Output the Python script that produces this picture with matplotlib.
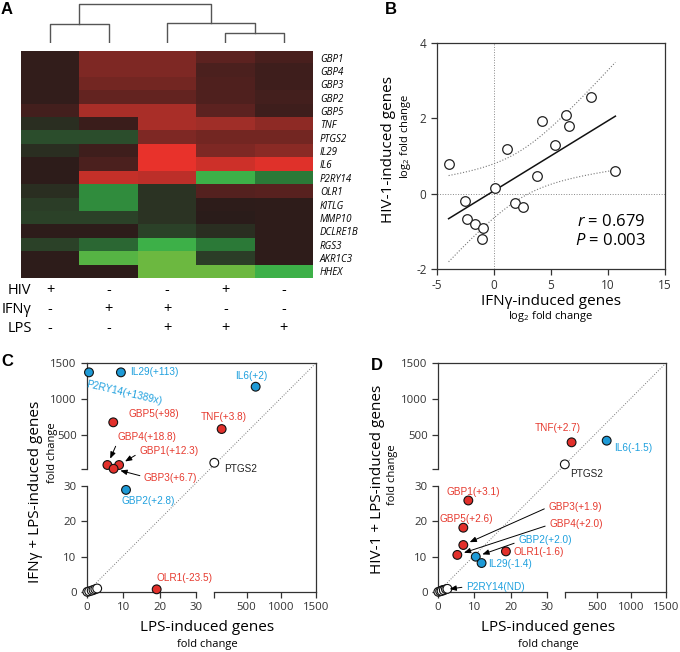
import numpy as np
import matplotlib
matplotlib.use('Agg')
import matplotlib.pyplot as plt
from matplotlib.colors import LinearSegmentedColormap

plt.rcParams['font.family'] = ['Open Sans', 'DejaVu Sans']
plt.rcParams['mathtext.fontset'] = 'custom'
plt.rcParams['mathtext.rm'] = 'Open Sans'
plt.rcParams['mathtext.it'] = 'Open Sans:italic'
plt.rcParams['axes.unicode_minus'] = False

# ---------------- panel A: heatmap ----------------
genes = ['GBP1', 'GBP4', 'GBP3', 'GBP2', 'GBP5', 'TNF', 'PTGS2', 'IL29', 'IL6',
         'P2RY14', 'OLR1', 'KITLG', 'MMP10', 'DCLRE1B', 'RGS3', 'AKR1C3', 'HHEX']
treatments = ['HIV', 'IFNγ', 'LPS']
treat_signs = [['+', '-', '-', '+', '-'],
               ['-', '+', '+', '-', '-'],
               ['-', '-', '+', '+', '+']]
# relative expression (red = up, green = down), columns as in the figure
heat = np.array([
    [0.05, 0.45, 0.45, 0.30, 0.18],
    [0.05, 0.45, 0.45, 0.20, 0.12],
    [0.05, 0.40, 0.40, 0.22, 0.12],
    [0.05, 0.33, 0.33, 0.22, 0.15],
    [0.15, 0.65, 0.65, 0.30, 0.12],
    [-0.12, 0.10, 0.65, 0.60, 0.52],
    [-0.30, -0.30, 0.45, 0.40, 0.40],
    [-0.12, 0.12, 1.00, 0.45, 0.50],
    [0.02, 0.20, 1.00, 0.85, 0.95],
    [0.02, 0.80, 0.75, -0.80, -0.50],
    [-0.12, -0.60, -0.15, 0.25, 0.28],
    [-0.22, -0.60, -0.15, 0.02, 0.03],
    [-0.25, -0.25, -0.15, 0.00, 0.03],
    [0.02, 0.02, -0.25, -0.12, 0.03],
    [-0.25, -0.42, -0.80, -0.50, 0.03],
    [0.02, -0.88, -0.95, -0.22, 0.03],
    [0.02, 0.02, -0.95, -0.95, -0.80],
])
# dendrogram over the 5 columns: (left node, right node, height); new nodes get ids 5, 6, ...
merges = [(0, 1, 19), (3, 4, 10), (2, 6, 20), (5, 7, 40)]

# ---------------- panel B ----------------
ifng_log2 = [-3.98, -2.58, -2.37, -1.70, -0.97, -1.03, 0.05, 1.16, 1.86,
             2.59, 3.76, 4.23, 5.39, 6.33, 6.56, 8.52, 10.65]
hiv_log2 = [0.79, -0.20, -0.68, -0.80, -0.92, -1.21, 0.16, 1.19, -0.25,
            -0.36, 0.47, 1.92, 1.30, 2.08, 1.79, 2.57, 0.61]
r_value = '0.679'
p_value = '0.003'

# ---------------- panel C ----------------
c_genes = ['P2RY14', 'IL29', 'IL6', 'GBP5', 'TNF', 'GBP4', 'GBP1', 'GBP3', 'GBP2',
           'OLR1', 'PTGS2', 'KITLG', 'MMP10', 'DCLRE1B', 'RGS3', 'AKR1C3', 'HHEX']
c_lps = [0.55, 9.3, 631, 7.2, 141, 5.6, 8.8, 7.3, 10.7, 19.1, 35, 0.1, 0.6, 1.3, 1.8, 2.3, 2.8]
c_ifng_lps = [1371, 1371, 1172, 679, 586, 88, 88, 36, 28.9, 0.76, 119, 0.05, 0.2, 0.4, 0.6, 0.8, 1.0]
c_group = ['blue', 'blue', 'blue', 'red', 'red', 'red', 'red', 'red', 'blue',
           'red', 'none', 'none', 'none', 'none', 'none', 'none', 'none']

# ---------------- panel D ----------------
d_genes = ['TNF', 'IL6', 'PTGS2', 'GBP1', 'GBP5', 'GBP3', 'GBP4', 'GBP2', 'IL29',
           'OLR1', 'P2RY14', 'KITLG', 'MMP10', 'DCLRE1B', 'RGS3', 'AKR1C3', 'HHEX']
d_lps = [134, 642, 36, 8.35, 6.97, 6.97, 5.32, 10.4, 12.0, 18.7, 1.3, 0.1, 0.6, 1.0, 1.6, 2.2, 2.6]
d_hiv_lps = [402, 425, 97, 25.9, 18.2, 13.3, 10.5, 9.99, 8.2, 11.5, 0.57, 0.05, 0.2, 0.3, 0.5, 0.8, 0.9]
d_group = ['red', 'blue', 'none', 'red', 'red', 'red', 'red', 'blue', 'blue',
           'red', 'blue', 'none', 'none', 'none', 'none', 'none', 'none']

# labels: text, gene, position (axes fraction), ha, arrow start (relpos) or None, rotation
c_notes = [
    ('IL29(+113)', 'IL29', (0.188, 0.959), 'left', None, 0),
    ('P2RY14(+1389x)', 'P2RY14', (0.162, 0.868), 'center', None, -13),
    ('IL6(+2)', 'IL6', (0.716, 0.945), 'center', None, 0),
    ('GBP5(+98)', 'GBP5', (0.181, 0.776), 'left', None, 0),
    ('TNF(+3.8)', 'TNF', (0.595, 0.763), 'center', None, 0),
    ('GBP4(+18.8)', 'GBP4', (0.133, 0.676), 'left', (0.0, 0.0), 0),
    ('GBP1(+12.3)', 'GBP1', (0.228, 0.616), 'left', (0.0, 0.3), 0),
    ('GBP3(+6.7)', 'GBP3', (0.249, 0.499), 'left', (0.0, 0.6), 0),
    ('PTGS2', 'PTGS2', (0.598, 0.536), 'left', None, 0),
    ('GBP2(+2.8)', 'GBP2', (0.151, 0.397), 'left', None, 0),
    ('OLR1(-23.5)', 'OLR1', (0.304, 0.062), 'left', None, 0),
]
d_notes = [
    ('TNF(+2.7)', 'TNF', (0.526, 0.718), 'center', None, 0),
    ('IL6(-1.5)', 'IL6', (0.772, 0.630), 'left', None, 0),
    ('PTGS2', 'PTGS2', (0.579, 0.516), 'left', None, 0),
    ('GBP1(+3.1)', 'GBP1', (0.155, 0.437), 'center', None, 0),
    ('GBP5(+2.6)', 'GBP5', (0.126, 0.319), 'center', None, 0),
    ('GBP3(+1.9)', 'GBP3', (0.484, 0.371), 'left', (0.0, 0.5), 0),
    ('GBP4(+2.0)', 'GBP4', (0.488, 0.298), 'left', (0.0, 0.4), 0),
    ('GBP2(+2.0)', 'GBP2', (0.352, 0.228), 'left', (0.0, 0.3), 0),
    ('OLR1(-1.6)', 'OLR1', (0.330, 0.174), 'left', None, 0),
    ('IL29(-1.4)', 'IL29', (0.221, 0.121), 'left', None, 0),
    ('P2RY14(ND)', 'P2RY14', (0.123, 0.023), 'left', (0.0, 0.5), 0),
]

FACE = {'red': '#e2302b', 'blue': '#1e9ad6', 'none': 'white'}
TEXTC = {'red': '#e63a2f', 'blue': '#1fa0de', 'none': '#222222'}
SPINE = '#333333'

fig = plt.figure(figsize=(6.8, 6.52), dpi=100)

# ---------- A ----------
cmap = LinearSegmentedColormap.from_list('rg', [
    (0.0, '#7cbb3e'), (0.1, '#3cb049'), (0.25, '#2b7a38'), (0.375, '#2c4229'),
    (0.5, '#2a1c1a'), (0.65, '#5c2220'), (0.8, '#a02e28'), (1.0, '#e8322b')])
axh = fig.add_axes([0.0309, 0.5736, 0.4294, 0.3482])
axh.imshow(heat, cmap=cmap, vmin=-1, vmax=1, aspect='auto', interpolation='nearest')
axh.set_xticks([])
axh.yaxis.tick_right()
axh.set_yticks(range(len(genes)))
axh.set_yticklabels(genes, fontsize=7, style='italic')
axh.tick_params(axis='y', length=0, pad=5)
for s in axh.spines.values():
    s.set_visible(False)
n_rows = len(genes)
for i, (name, signs) in enumerate(zip(treatments, treat_signs)):
    yy = n_rows - 1 + 1.45 + i * 1.4
    axh.text(-0.32, yy, name, ha='right', va='center', fontsize=10.5)
    for j, sg in enumerate(signs):
        axh.text(j, yy, sg, ha='center', va='center', fontsize=10.5)

axd = fig.add_axes([0.0309, 0.9340, 0.4294, 0.0613])
node_x = {k: float(k) for k in range(5)}
node_h = {k: 0.0 for k in range(5)}
for idx, (a, b, h) in enumerate(merges):
    axd.plot([node_x[a], node_x[a], node_x[b], node_x[b]], [node_h[a], h, h, node_h[b]],
             color='#555555', lw=1.0)
    node_x[5 + idx] = (node_x[a] + node_x[b]) / 2
    node_h[5 + idx] = h
axd.set_xlim(-0.5, 4.5)
axd.set_ylim(0, 40.5)
axd.axis('off')

# ---------- B ----------
axb = fig.add_axes([0.6426, 0.5874, 0.3353, 0.3466])
x = np.array(ifng_log2)
y = np.array(hiv_log2)
n = len(x)
slope, icpt = np.polyfit(x, y, 1)
xs = np.linspace(x.min(), x.max(), 200)
fit = icpt + slope * xs
res = y - (icpt + slope * x)
s_err = np.sqrt(np.sum(res ** 2) / (n - 2))
sxx = np.sum((x - x.mean()) ** 2)
t99 = 2.947  # t(0.995, df=15)
half = t99 * s_err * np.sqrt(1 / n + (xs - x.mean()) ** 2 / sxx)
axb.axhline(0, color='#888888', ls=':', lw=0.7)
axb.axvline(0, color='#888888', ls=':', lw=0.7)
axb.plot(xs, fit + half, color='#777777', ls=':', lw=0.8)
axb.plot(xs, fit - half, color='#777777', ls=':', lw=0.8)
axb.plot(xs, fit, color='#111111', lw=1.1)
axb.scatter(x, y, s=48, facecolor='white', edgecolor='#222222', lw=0.9, zorder=3)
axb.set_xlim(-5, 15)
axb.set_ylim(-2, 4)
axb.set_xticks([-5, 0, 5, 10, 15])
axb.set_yticks([-2, 0, 2, 4])
axb.tick_params(direction='out', length=4, width=0.9, labelsize=8.5, colors=SPINE)
for s in axb.spines.values():
    s.set_color(SPINE)
    s.set_linewidth(0.9)
axb.text(0.614, 0.208, '$r$ = ' + r_value, transform=axb.transAxes, fontsize=12, va='center')
axb.text(0.605, 0.124, '$P$ = ' + p_value, transform=axb.transAxes, fontsize=12, va='center')
fig.text(0.810, 0.537, 'IFNγ-induced genes', ha='center', va='center', fontsize=11)
fig.text(0.810, 0.514, 'log$_2$ fold change', ha='center', va='center', fontsize=8)
fig.text(0.571, 0.771, 'HIV-1-induced genes', ha='center', va='center', fontsize=11, rotation=90)
fig.text(0.597, 0.791, 'log$_2$ fold change', ha='center', va='center', fontsize=8, rotation=90)


# ---------- C & D: broken axes ----------
BRK_V = [0, 30, 32, 1500]


def broken(lo, hi):
    vv = np.array([-1500.0] + BRK_V + [3000.0])
    uu = np.array([-1500.0 / 30 * lo, 0, lo, hi, 1, 1 + 1500.0 / 1468 * (1 - hi)])
    return (lambda v: np.interp(v, vv, uu)), (lambda u: np.interp(u, uu, vv))


def fold_panel(ax, gx, gy, group, names, notes):
    ax.set_xscale('function', functions=broken(0.478, 0.555))
    ax.set_yscale('function', functions=broken(0.463, 0.537))
    ax.set_xlim(0, 1500)
    ax.set_ylim(0, 1500)
    ax.plot([0, 1], [0, 1], transform=ax.transAxes, color='#777777', ls=':', lw=0.7)
    ax.scatter(gx, gy, s=40, c=[FACE[g] for g in group], edgecolors='#111111',
               linewidths=0.8, zorder=3, clip_on=False)
    ticks = [0, 10, 20, 30, 32, 500, 1000, 1500]
    labels = ['0', '10', '20', '30', '', '500', '1000', '1500']
    ax.set_xticks(ticks)
    ax.set_xticklabels(labels)
    ax.set_yticks(ticks)
    ax.set_yticklabels(labels)
    ax.tick_params(direction='out', length=4, width=0.9, labelsize=8.2, colors=SPINE)
    for s in ax.spines.values():
        s.set_color(SPINE)
        s.set_linewidth(0.9)
    ax.spines['bottom'].set_bounds(0, 30)
    ax.spines['left'].set_bounds(0, 30)
    ax.plot([32, 1500], [0, 0], transform=ax.get_xaxis_transform(), color=SPINE, lw=0.9,
            clip_on=False)
    ax.plot([0, 0], [32, 1500], transform=ax.get_yaxis_transform(), color=SPINE, lw=0.9,
            clip_on=False)
    for text, gene, pos, ha, rel, rot in notes:
        gi = names.index(gene)
        kw = dict(xy=(gx[gi], gy[gi]), xytext=pos, textcoords='axes fraction', ha=ha,
                  va='center', fontsize=7.2, color=TEXTC[group[gi]], rotation=rot,
                  family='Liberation Sans')
        if rel is not None:
            kw['arrowprops'] = dict(arrowstyle='-|>,head_length=0.55,head_width=0.22',
                                    color='black', lw=0.7, shrinkA=1, shrinkB=5, relpos=rel)
        ax.annotate(text, **kw)


axc = fig.add_axes([0.1279, 0.0920, 0.3368, 0.3512])
fold_panel(axc, c_lps, c_ifng_lps, c_group, c_genes, c_notes)
fig.text(0.0515, 0.245, 'IFNγ + LPS-induced genes', ha='center', va='center', fontsize=11,
         rotation=90)
fig.text(0.0765, 0.305, 'fold change', ha='center', va='center', fontsize=8, rotation=90)
fig.text(0.305, 0.038, 'LPS-induced genes', ha='center', va='center', fontsize=11)
fig.text(0.305, 0.012, 'fold change', ha='center', va='center', fontsize=8)

axdd = fig.add_axes([0.6441, 0.0920, 0.3353, 0.3512])
fold_panel(axdd, d_lps, d_hiv_lps, d_group, d_genes, d_notes)
fig.text(0.555, 0.264, 'HIV-1 + LPS-induced genes', ha='center', va='center', fontsize=11,
         rotation=90)
fig.text(0.577, 0.2715, 'fold change', ha='center', va='center', fontsize=8, rotation=90)
fig.text(0.806, 0.038, 'LPS-induced genes', ha='center', va='center', fontsize=11)
fig.text(0.806, 0.012, 'fold change', ha='center', va='center', fontsize=8)

for lab, fx, fy in [('A', 7, 10), ('B', 391, 10), ('C', 7, 362), ('D', 377, 365)]:
    fig.text(fx / 680, 1 - fy / 652, lab, ha='center', va='center', fontsize=12,
             fontweight='bold', family='Liberation Sans')

fig.savefig('out.png', dpi=100)
